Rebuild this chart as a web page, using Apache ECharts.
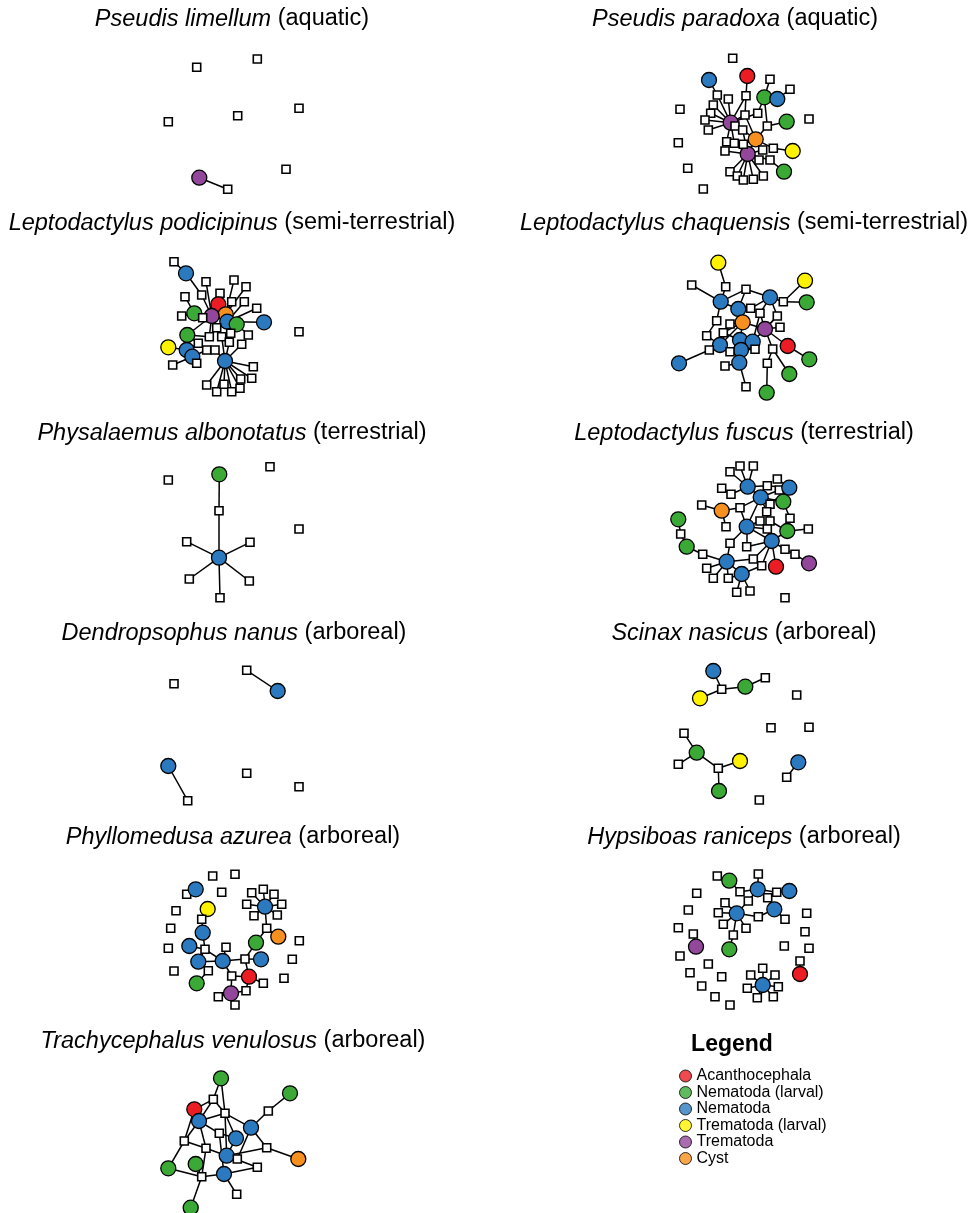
<!DOCTYPE html>
<html><head><meta charset="utf-8">
<script src="https://cdn.jsdelivr.net/npm/echarts@6/dist/echarts.min.js"></script>
<style>html,body{margin:0;padding:0;background:#fff}#c{width:968px;height:1213px}</style>
</head><body><div id="c"></div>
<script>
// Node types: S host (square), R Acanthocephala, G Nematoda (larval), B Nematoda, Y Trematoda (larval), P Trematoda, O Cyst
const categories = ['Acanthocephala','Nematoda (larval)','Nematoda','Trematoda (larval)','Trematoda','Cyst'];
const categoryCodes = ['R','G','B','Y','P','O'];

// ---- Pseudis limellum ----
const limellumNodes = [['S',46.7,27.3],['S',107.3,19],['S',18.3,81.7],['S',87.7,75.7],['S',149,68.3],['S',136,129.3],['S',77.7,149.3],['P',49.3,137.7]];
const limellumEdges = [[7,6]];

// ---- Pseudis paradoxa ----
const paradoxaNodes = [['S',72.7,13.3],['R',87.3,31],['S',86,50.7],['B',49,35],['S',110,34.3],['S',130,44.3],['G',104.3,52.3],['B',117.3,54],['S',20,64.3],['S',149,74],
['G',126.7,76.7],['S',107.3,81],['P',70.7,77.7],['P',87.7,109],['O',95.7,94.3],['Y',132.7,106],['G',124,126.7],['S',18.3,97.7],['S',27.7,123.3],['S',43.3,144],
['S',57.3,50],['S',68.3,54],['S',53.3,60],['S',50.7,68.3],['S',45,75],['S',48.3,85],['S',85,70],['S',97.7,68.3],['S',75,81],['S',82.7,85],
['S',66.7,96.7],['S',74.3,98.3],['S',65,106],['S',83.3,99.3],['S',102.7,105],['S',113.3,103.3],['S',99,115],['S',110,115],['S',70,126.7],['S',77.3,131],
['S',83.3,135],['S',93.3,134.3],['S',103.3,131]];
const paradoxaEdges = [[1,2],[2,12],[3,20],[20,12],[21,12],[22,12],[23,12],[24,12],[25,12],[26,12],[28,12],[30,12],[6,4],[6,27],[27,12],[7,5],[6,11],[10,11],[11,14],[14,29],[14,33],[14,13],[15,35],[35,14],[16,37],[37,13],[36,13],[34,13],[13,38],[13,39],[13,40],[13,41],[13,42],[13,32],[13,31],[29,13],[28,29],[31,12],[26,14],[2,26]];

// ---- Leptodactylus podicipinus ----
const podicipinusNodes = [['S',24,6.7],['B',36,18.3],['S',56,26.7],['S',84,25],['S',96,31.7],['S',70,38.3],['S',81.7,46.7],['S',94.3,46.7],['S',106.7,53.3],['S',35,41.7],
['S',51.7,40],['R',68.3,49.3],['O',75.7,59.3],['P',61.7,61],['G',44.3,58.3],['B',77.3,66.7],['G',86.7,69.3],['B',114,67.3],['G',37.3,80],['Y',18.3,92.3],
['B',36.7,95],['B',42.3,101.7],['B',75,106],['S',149,76.7],['S',31.7,61],['S',52.7,62.7],['S',66.7,72.7],['S',59.3,81.7],['S',71.7,81.7],['S',80.7,78.3],
['S',98.3,80],['S',91.7,89.3],['S',79.3,87.3],['S',48.3,88.3],['S',56.7,95],['S',65,95],['S',46.7,108.3],['S',22.7,110],['S',103.3,111.7],['S',56.7,130],
['S',66.7,136.7],['S',74,129.3],['S',81.7,136.7],['S',90,133.3],['S',90.7,124],['S',101.7,123.3]];
const podicipinusEdges = [[0,1],[1,10],[10,13],[2,13],[5,13],[3,12],[4,12],[6,12],[7,15],[8,15],[9,14],[14,13],[11,13],[11,12],[12,15],[13,25],[14,24],[15,17],[16,30],[15,29],[13,26],[13,27],[18,27],[18,33],[19,20],[20,33],[21,36],[21,37],[21,34],[22,35],[22,28],[22,32],[22,31],[22,38],[22,39],[22,40],[22,41],[22,42],[22,43],[22,44],[22,45],[13,28],[16,12],[12,32],[18,13]];

// ---- Leptodactylus chaquensis ----
const chaquensisNodes = [['Y',58.3,12.7],['S',65.7,36.7],['Y',145,30.7],['S',123.3,51.7],['G',146.7,52.3],['S',31.7,35],['B',60.7,51.7],['S',86,39.3],['B',110,47.3],['B',78.3,59],
['S',90.7,58.3],['S',100,63.3],['S',117.3,66],['O',82.7,72.3],['P',105,79],['S',56.7,70.7],['S',70,74],['S',46.7,85.7],['S',63.3,82.7],['S',120,77.3],
['B',80,90],['B',92.7,91.7],['B',60,95],['B',81,100],['B',79.3,112.7],['R',127.7,96],['S',49.3,100],['S',70,101.7],['S',95,99.3],['S',112.7,99],
['S',107.3,113.3],['S',65,116],['B',19,113.3],['G',149.3,109.3],['G',129.3,124],['S',86,136.7],['G',106.7,142.7]];
const chaquensisEdges = [[0,1],[1,6],[2,3],[4,3],[3,8],[5,6],[6,7],[7,8],[6,15],[6,9],[9,10],[10,8],[8,11],[8,12],[9,13],[13,14],[13,16],[13,18],[14,11],[14,12],[14,19],[14,21],[14,25],[14,29],[13,20],[13,22],[15,17],[16,22],[18,20],[17,22],[20,23],[21,28],[22,26],[22,27],[23,27],[23,24],[24,31],[24,35],[26,32],[25,33],[29,34],[30,36],[29,30],[23,28],[11,21],[12,14],[7,9]];

// ---- Physalaemus albonotatus ----
const albonotatusNodes = [['G',69.3,19.3],['S',69,55.7],['B',69,102.7],['S',18.3,25],['S',120,11.7],['S',149,74],['S',36.7,86.7],['S',100,87.3],['S',39.3,124],['S',99.3,126],['S',70,142.7]];
const albonotatusEdges = [[0,1],[1,2],[2,6],[2,7],[2,8],[2,9],[2,10]];

// ---- Leptodactylus fuscus ----
const fuscusNodes = [['S',70,16.7],['S',80,11],['S',93.3,11],['S',61.7,33.3],['S',71,39.3],['B',87.7,31.7],['S',107.3,30.7],['S',117.3,24],['S',119.3,35],['B',129.3,32.7],
['B',100.7,42.3],['G',123.3,46.7],['S',41.7,50],['O',61.7,55.7],['S',80,52.7],['S',110,49.3],['S',106.7,56.7],['S',130,63.3],['S',100,66],['S',110,66],
['G',18.3,64.3],['G',127.3,76],['S',148.3,74],['B',86.7,71.7],['S',66,71.7],['S',107.3,74],['S',70,88.3],['S',86.7,91.7],['S',125,94.3],['S',135,99.3],
['S',20.7,79],['B',111.7,86],['G',26.7,91.7],['S',42.7,99.3],['S',46.7,113.3],['S',53.3,123.3],['S',68.3,123.3],['S',93.3,104],['S',101.7,110.7],['B',66.7,106.7],
['R',116,111.7],['P',149,108.3],['B',81.7,119],['S',76.7,137.3],['S',90,136],['S',125,142.7]];
const fuscusEdges = [[0,5],[1,5],[2,5],[3,4],[4,5],[5,6],[6,9],[7,9],[5,10],[8,10],[10,11],[10,15],[10,16],[9,15],[12,13],[13,14],[14,10],[13,24],[14,23],[10,23],[23,18],[23,25],[23,26],[23,27],[23,31],[16,31],[19,21],[17,21],[11,17],[21,22],[21,31],[31,28],[28,29],[29,41],[31,37],[31,38],[31,40],[31,27],[20,30],[30,32],[32,33],[33,39],[26,39],[39,34],[39,35],[39,36],[39,42],[39,37],[42,38],[42,43],[42,44],[42,36],[18,25],[25,31]];

// ---- Dendropsophus nanus ----
const nanusNodes = [['S',24,28.7],['S',96.7,15.3],['B',127.7,36],['B',18.3,111],['S',37.7,145.7],['S',96.7,118.3],['S',149,131.7]];
const nanusEdges = [[1,2],[3,4]];

// ---- Scinax nasicus ----
const nasicusNodes = [['B',53.3,16],['S',61.7,34.3],['Y',40,43.3],['G',85.3,31.7],['S',105.3,22.7],['S',136.7,40],['S',111,72.7],['S',149,72.3],['S',24,78.3],['G',36.7,97.7],
['S',18.3,109.3],['S',58.3,113.3],['Y',80,106],['G',59,136],['B',138.3,107.3],['S',126.7,122.3],['S',99.3,145]];
const nasicusEdges = [[0,1],[2,1],[1,3],[3,4],[8,9],[9,10],[9,11],[11,12],[11,13],[14,15]];

// ---- Phyllomedusa azurea ----
const azureaNodes = [['S',62.7,16],['S',85,14.3],['S',36.7,34.3],['B',45.7,29.3],['S',71.7,32.3],['B',115,46.7],['S',101.7,32.7],['S',113.3,29.3],['S',124,34.3],['S',96.7,44.3],
['S',131.7,44.3],['S',104,55.7],['S',127.3,55],['S',116.7,68.3],['O',128.3,76.7],['G',106,82.7],['Y',57.7,49],['S',26,50.7],['S',20.7,68.3],['S',18.3,88.3],
['S',24,111],['S',51.7,59.3],['B',52.7,72.7],['B',39.3,86],['S',55,89.3],['S',76,87.3],['B',48.3,101.7],['B',72.7,101],['S',95,99],['B',111,99.3],
['S',58.3,110.7],['S',81.7,116],['G',46.7,123.3],['R',99,116.7],['S',113.3,123.3],['S',96,130.7],['S',134,118.3],['S',142.3,99.3],['S',149.3,80.7],['P',81,133.3],
['S',68.3,136.7],['S',85,145]];
const azureaEdges = [[2,3],[5,6],[5,7],[5,8],[5,9],[5,10],[5,11],[5,12],[5,13],[13,14],[13,15],[15,28],[16,21],[21,22],[22,24],[23,24],[24,26],[24,27],[26,27],[26,30],[30,32],[27,25],[27,28],[28,29],[27,31],[31,39],[31,33],[33,28],[33,34],[33,35],[39,40],[39,41],[39,35]];

// ---- Hypsiboas raniceps ----
const ranicepsNodes = [['S',57.3,16],['G',69.3,20.7],['S',98.3,14],['B',97.7,29.3],['B',129.3,31],['S',80,31.7],['S',116.7,32.3],['S',36.7,33.3],['S',88.3,41],['S',65,42.7],
['B',114.3,49.3],['S',107.7,37.7],['S',28.3,50],['S',58.3,52.7],['B',76.7,53.3],['S',98.3,56.7],['S',146.7,53.3],['S',125,59.3],['S',18.3,67.7],['S',63.3,64.3],
['S',86,68.3],['S',145,71.7],['S',33.3,74],['S',73.3,75],['P',36,86.7],['G',69.3,89.3],['S',124.3,86],['S',149,88.3],['S',20,96],['S',48.3,104],
['S',140,101],['R',140,114],['S',30,112.7],['S',61.7,116.7],['B',102.7,125],['S',90.7,115],['S',102.7,108.3],['S',115,115],['S',118.3,126.7],['S',113.3,136.7],
['S',97.3,137.7],['S',87.3,128.3],['S',41.7,126],['S',55,136.7],['S',70,145]];
const ranicepsEdges = [[1,5],[5,3],[3,2],[3,6],[6,4],[3,8],[8,14],[3,11],[11,10],[10,17],[10,15],[15,14],[14,9],[14,13],[14,19],[14,20],[14,23],[23,25],[22,24],[30,31],[34,35],[34,36],[34,37],[34,38],[34,39],[34,40],[34,41]];

// ---- Trachycephalus venulosus ----
const venulosusNodes = [['G',71,18.3],['G',140,33.3],['S',63.3,39.3],['R',44.3,49.3],['B',49,61],['S',75,53.3],['S',118.3,51],['B',101,67.7],['S',69.3,73.3],['B',86,78.3],
['S',34.3,81],['S',56,88.3],['S',116.7,87.7],['B',76.7,95.7],['S',87.3,99],['O',148.3,99],['G',18.3,108.3],['G',45.7,104],['S',107.3,107.3],['B',74,114],
['S',51.7,116.7],['S',86.7,134.3],['G',40.7,147.7]];
const venulosusEdges = [[0,2],[0,5],[2,3],[2,4],[2,5],[3,4],[3,10],[4,5],[4,8],[4,11],[4,10],[5,7],[5,9],[5,13],[1,6],[6,7],[7,12],[7,14],[12,15],[12,13],[9,8],[9,13],[13,14],[13,18],[10,16],[10,11],[11,13],[16,20],[17,20],[20,22],[20,19],[19,21],[19,18],[11,20],[8,19]];

// Panel titles: [species, habitat]
const panelTitles = [
  ['Pseudis limellum','(aquatic)'],['Pseudis paradoxa','(aquatic)'],
  ['Leptodactylus podicipinus','(semi-terrestrial)'],['Leptodactylus chaquensis','(semi-terrestrial)'],
  ['Physalaemus albonotatus','(terrestrial)'],['Leptodactylus fuscus','(terrestrial)'],
  ['Dendropsophus nanus','(arboreal)'],['Scinax nasicus','(arboreal)'],
  ['Phyllomedusa azurea','(arboreal)'],['Hypsiboas raniceps','(arboreal)'],
  ['Trachycephalus venulosus','(arboreal)']
];
const panelNodes = [limellumNodes,paradoxaNodes,podicipinusNodes,chaquensisNodes,albonotatusNodes,fuscusNodes,nanusNodes,nasicusNodes,azureaNodes,ranicepsNodes,venulosusNodes];
const panelEdges = [limellumEdges,paradoxaEdges,podicipinusEdges,chaquensisEdges,albonotatusEdges,fuscusEdges,nanusEdges,nasicusEdges,azureaEdges,ranicepsEdges,venulosusEdges];

// ---- layout & styles ----
const boxes = [
  [150,40,160,160],[660,45,160,150],
  [150,255,160,150],[660,250,170,155],
  [150,455,160,150],[660,455,170,150],
  [150,655,160,150],[660,655,160,150],
  [150,860,160,155],[660,860,160,155],
  [150,1060,190,153]
];
const titleCenters = [[232,18],[735,18],[232,222],[744,222],[232,432],[744,432],[234,632],[744,632],[233,836],[744,836],[233,1040]];
const colors = {R:'#ec1c24',G:'#3aa935',B:'#2b7abf',Y:'#fff200',P:'#92479b',O:'#f7901e'};
const FONT = '"Liberation Sans", Arial, Helvetica, sans-serif';

const grid=[], xAxis=[], yAxis=[], series=[], title=[];
boxes.forEach((b,i)=>{
  grid.push({left:b[0], top:b[1], width:b[2], height:b[3], containLabel:false});
  xAxis.push({type:'value', gridIndex:i, min:0, max:b[2], show:false});
  yAxis.push({type:'value', gridIndex:i, min:0, max:b[3], inverse:true, show:false});
  const data = panelNodes[i].map(([t,x,y])=>{
    const sq = t==='S';
    return {value:[x,y], symbol: sq?'rect':'circle', symbolSize: sq?8:15,
      itemStyle:{color: sq?'#fff':colors[t], borderColor:'#000', borderWidth: sq?1.6:1.3}};
  });
  const links = panelEdges[i].map(([s,t])=>({source:s, target:t}));
  series.push({type:'graph', coordinateSystem:'cartesian2d', xAxisIndex:i, yAxisIndex:i,
    data, links, silent:true, animation:false, z: 2,
    lineStyle:{color:'#000', width:1.5, opacity:1, curveness:0},
    emphasis:{disabled:true}, label:{show:false}});
  const [c,y] = titleCenters[i];
  title.push({text:'{i|'+panelTitles[i][0]+'} '+panelTitles[i][1], left:c, top:y-11, textAlign:'center', padding:0,
    textStyle:{fontFamily:FONT, fontSize:23.5, fontWeight:'normal', color:'#000',
      rich:{i:{fontStyle:'italic', fontFamily:FONT, fontSize:23.5, color:'#000'}}}});
});
title.push({text:'Legend', left:732, top:1033, textAlign:'center', padding:0,
  textStyle:{fontFamily:FONT, fontSize:23, fontWeight:'bold', color:'#000'}});

categories.forEach((name,k)=>{
  series.push({type:'scatter', name, xAxisIndex:0, yAxisIndex:0, data:[], itemStyle:{color:colors[categoryCodes[k]]}});
});

const chart = echarts.init(document.getElementById('c'), null, {renderer:'canvas'});
chart.setOption({
  animation:false,
  backgroundColor:'#fff',
  title, grid, xAxis, yAxis, series,
  legend:{data:categories, orient:'vertical', left:679, top:1068, padding:0, itemGap:0.5, itemWidth:12, itemHeight:12,
    icon:'circle', selectedMode:false,
    itemStyle:{borderColor:'#000', borderWidth:1},
    textStyle:{fontFamily:FONT, fontSize:16, color:'#000', lineHeight:16}}
});
</script></body></html>
